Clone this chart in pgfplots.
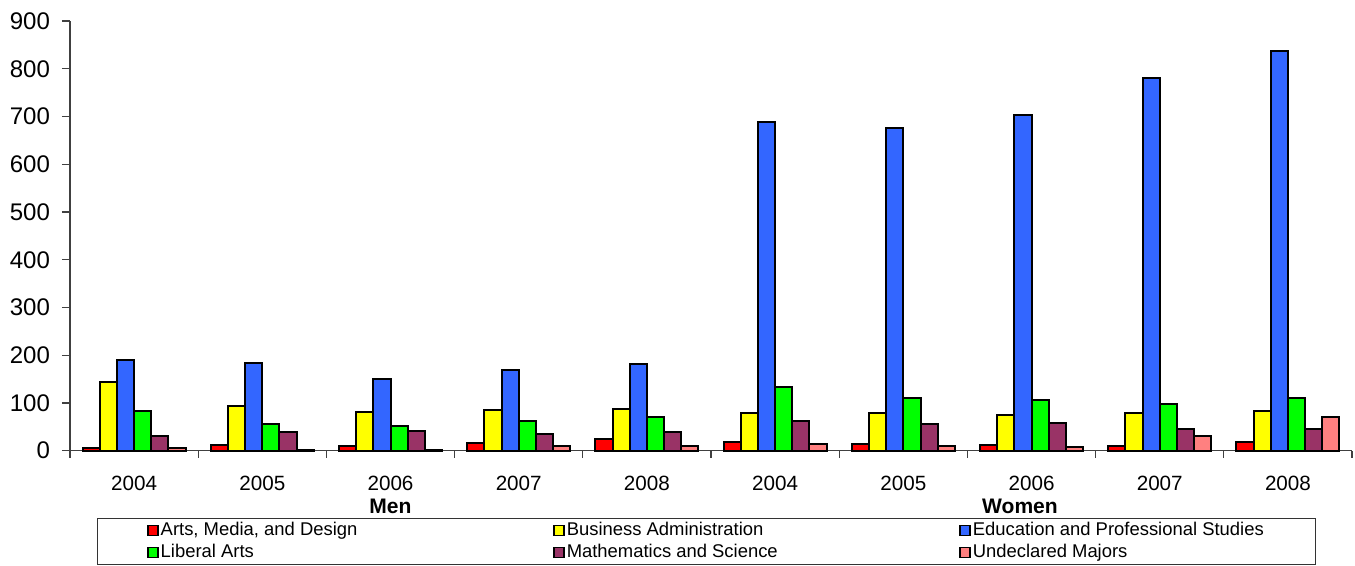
\documentclass[border=0pt]{standalone}
\usepackage{fontspec}
\setmainfont{Liberation Sans}
\usepackage{pgfplots}
\usepackage{pgfplotstable}
\pgfplotsset{compat=1.18}
\definecolor{cArts}{RGB}{255,0,0}
\definecolor{cBus}{RGB}{255,255,0}
\definecolor{cEdu}{RGB}{51,102,255}
\definecolor{cLib}{RGB}{0,255,0}
\definecolor{cMath}{RGB}{153,51,102}
\definecolor{cUnd}{RGB}{255,128,128}

% x: 0-4 Men 2004-2008, 5-9 Women 2004-2008
\pgfplotstableread{
x arts bus edu lib math und
0 6 143 189 84 31 6
1 13 93 183 56 39 2
2 9 82 151 52 42 1
3 17 86 170 62 34 9
4 25 88 181 70 40 9
5 19 78 688 133 63 14
6 15 80 677 110 55 9
7 12 74 704 107 58 8
8 10 79 780 97 45 31
9 19 83 838 110 45 70
}\datatable

\begin{document}
\begin{tikzpicture}
\begin{axis}[
  scale only axis, width=640pt, height=214.5pt,
  xmin=-0.5, xmax=9.5, ymin=0, ymax=900,
  ybar=0pt, bar width=0.134,
  axis x line*=bottom, axis y line*=left,
  axis line style={black!75, line width=0.6pt},
  every tick/.style={black!75, line width=0.6pt},
  tick align=outside,
  xtick={0,...,9},
  xticklabels={2004,2005,2006,2007,2008,2004,2005,2006,2007,2008},
  major x tick style={draw=none},
  minor xtick={-0.5,0.5,...,9.5},
  minor tick length=3.5pt,
  major tick length=4pt,
  ytick={0,100,...,900},
  /pgf/number format/assume math mode=true,
  y tick label style={font=\fontsize{12}{14}\selectfont, xshift=-2.5pt},
  x tick label style={font=\fontsize{10.3}{12}\selectfont, yshift=-5pt},
  clip=false,
  legend columns=3,
  legend style={at={(0.4965,-0.156)}, anchor=north,
    draw=black!80, line width=0.6pt,
    font=\fontsize{9.2}{11}\selectfont,
    inner xsep=25pt, inner ysep=0.5pt,
    row sep=0pt, column sep=0pt,
    nodes={text height=7pt, text depth=2.2pt, inner ysep=0.9pt, inner xsep=1pt, anchor=west}},
  legend cell align=left,
  legend image code/.code={\draw[#1, line width=0.7pt] (0pt,-2.5pt) rectangle (5pt,2.5pt);},
  every axis plot/.append style={draw=black, line width=1pt},
]
\addplot[fill=cArts] table[x=x,y=arts] {\datatable};
\addlegendentry{\makebox[195pt][l]{Arts, Media, and Design}}
\addplot[fill=cBus] table[x=x,y=bus] {\datatable};
\addlegendentry{\makebox[195pt][l]{Business Administration}}
\addplot[fill=cEdu] table[x=x,y=edu] {\datatable};
\addlegendentry{Education and Professional Studies}
\addplot[fill=cLib] table[x=x,y=lib] {\datatable};
\addlegendentry{\makebox[195pt][l]{Liberal Arts}}
\addplot[fill=cMath] table[x=x,y=math] {\datatable};
\addlegendentry{\makebox[195pt][l]{Mathematics and Science}}
\addplot[fill=cUnd] table[x=x,y=und] {\datatable};
\addlegendentry{Undeclared Majors}
\node[font=\bfseries\fontsize{10.5}{12}\selectfont] at (axis cs:2,0) [yshift=-28pt] {Men};
\node[font=\bfseries\fontsize{10.5}{12}\selectfont] at (axis cs:6.91,0) [yshift=-28pt] {Women};
\path (rel axis cs:-0.0546,1.049) (rel axis cs:1.0023,-0.2634);
\end{axis}
\end{tikzpicture}
\end{document}
